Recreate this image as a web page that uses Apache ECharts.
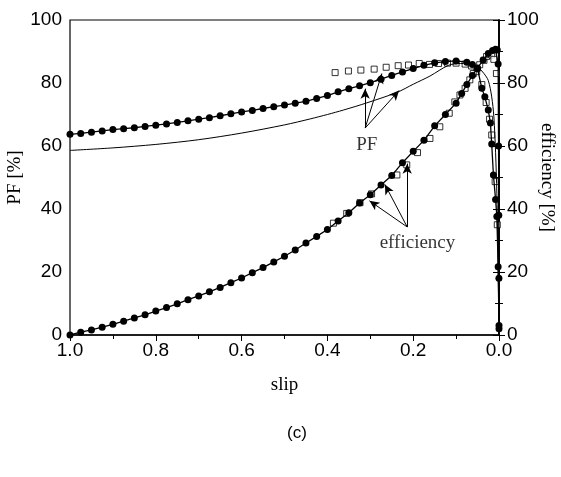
<!DOCTYPE html>
<html>
<head>
<meta charset="utf-8">
<script src="https://cdn.jsdelivr.net/npm/echarts@6/dist/echarts.min.js"></script>
<style>
	html, body { margin: 0; padding: 0; background: #fff; }
	#chart { width: 561px; height: 477px; }
</style>
</head>
<body>
<div id="chart"></div>
<script>
// PF, filled circles (with line)
var pfSlip = [1.0, 0.975, 0.95, 0.925, 0.9, 0.875, 0.85, 0.825, 0.8, 0.775, 0.75, 0.725, 0.7, 0.675, 0.65, 0.625, 0.6, 0.575, 0.55, 0.525, 0.5, 0.475, 0.45, 0.425, 0.4, 0.375, 0.35, 0.325, 0.3, 0.275, 0.25, 0.225, 0.2, 0.175, 0.15, 0.125, 0.1, 0.075, 0.062, 0.05, 0.04, 0.033, 0.025, 0.02, 0.017, 0.013, 0.008, 0.005, 0.002, 0.0];
var pfVal = [63.7, 64.0, 64.4, 64.8, 65.2, 65.5, 65.8, 66.2, 66.6, 67.0, 67.5, 68.0, 68.5, 69.0, 69.6, 70.2, 70.8, 71.3, 71.9, 72.5, 73.0, 73.6, 74.2, 75.1, 76.0, 77.2, 78.2, 79.1, 80.1, 81.2, 82.4, 83.5, 84.6, 85.6, 86.4, 86.8, 87.0, 86.6, 85.9, 84.5, 78.3, 75.6, 71.4, 67.3, 60.6, 50.8, 43.0, 37.6, 21.7, 3.0];

// PF, thin line (no markers)
var pfLineSlip = [1.0, 0.9, 0.8, 0.7, 0.6, 0.5, 0.44, 0.4, 0.363, 0.308, 0.238, 0.2, 0.161, 0.118, 0.09, 0.06, 0.045, 0.035, 0.025, 0.017, 0.012, 0.008, 0.005, 0.003, 0.001, 0.0];
var pfLineVal = [58.6, 59.4, 60.5, 62.0, 64.1, 66.7, 68.6, 70.0, 71.4, 73.7, 77.0, 79.6, 82.2, 85.6, 86.2, 85.8, 84.5, 83.0, 80.8, 75.6, 69.3, 58.0, 45.0, 30.0, 12.0, 4.0];

// PF, open squares
var pfSqSlip = [0.382, 0.351, 0.322, 0.291, 0.263, 0.235, 0.211, 0.186, 0.162, 0.141, 0.12, 0.1, 0.079, 0.064, 0.052, 0.04, 0.03, 0.022, 0.017, 0.009, 0.004];
var pfSqVal = [83.3, 83.8, 84.1, 84.4, 85.0, 85.5, 85.7, 86.2, 85.9, 86.2, 86.3, 86.3, 86.0, 85.4, 83.6, 79.5, 73.8, 68.5, 63.5, 48.7, 35.0];

// efficiency, filled circles (with line)
var effSlip = [1.0, 0.975, 0.95, 0.925, 0.9, 0.875, 0.85, 0.825, 0.8, 0.775, 0.75, 0.725, 0.7, 0.675, 0.65, 0.625, 0.6, 0.575, 0.55, 0.525, 0.5, 0.475, 0.45, 0.425, 0.4, 0.375, 0.35, 0.325, 0.3, 0.275, 0.25, 0.225, 0.2, 0.175, 0.15, 0.125, 0.1, 0.087, 0.075, 0.062, 0.05, 0.037, 0.025, 0.015, 0.008, 0.004, 0.002, 0.001, 0.0005, 0.0002, 0.0];
var effVal = [0.0, 0.9, 1.6, 2.5, 3.4, 4.4, 5.4, 6.4, 7.6, 8.7, 9.9, 11.2, 12.4, 13.7, 15.1, 16.6, 18.1, 19.8, 21.4, 23.2, 25.0, 27.0, 29.2, 31.3, 33.5, 36.2, 38.8, 41.9, 44.5, 47.6, 50.6, 54.7, 58.3, 61.8, 66.4, 70.0, 73.6, 76.7, 79.5, 82.4, 84.8, 87.3, 89.4, 90.3, 90.7, 90.5, 86.0, 60.0, 38.0, 18.0, 2.0];

// efficiency, open squares
var effSqSlip = [0.386, 0.355, 0.324, 0.297, 0.238, 0.215, 0.19, 0.161, 0.138, 0.116, 0.103, 0.091, 0.079, 0.068, 0.06, 0.045, 0.035, 0.029, 0.022, 0.017, 0.012, 0.006];
var effSqVal = [35.5, 38.6, 42.0, 44.8, 50.8, 54.0, 57.9, 62.4, 66.1, 70.4, 74.0, 76.2, 78.3, 81.0, 83.0, 85.8, 87.2, 88.4, 89.0, 88.9, 87.5, 83.0];

function pairs(xs, ys) {
	return xs.map(function(x, i) { return [x, ys[i]]; });
}

var serif = 'Liberation Serif';
var sans = 'Liberation Sans';

var myChart = echarts.init(document.getElementById('chart'));

var option = {
	animation: false,
	backgroundColor: '#fff',
	title: {
		text: '(c)',
		left: 282,
		top: 420,
		textStyle: { fontFamily: sans, fontWeight: 'normal', fontSize: 17, color: '#000' }
	},
	grid: {
		left: 70, right: 62, top: 20, bottom: 142,
		outerBoundsMode: 'none',
		containLabel: false,
		show: true, borderColor: '#000', borderWidth: 1.2
	},
	xAxis: {
		type: 'value',
		min: 0, max: 1, interval: 0.2,
		inverse: true,
		name: 'slip',
		nameLocation: 'middle',
		nameGap: 41,
		nameMoveOverlap: false,
		nameTextStyle: { fontFamily: serif, fontSize: 19, color: '#000' },
		axisLine: { lineStyle: { color: '#000', width: 1.5 } },
		axisTick: { length: 6, lineStyle: { color: '#000' } },
		minorTick: { show: true, splitNumber: 2, length: 4, lineStyle: { color: '#000' } },
		splitLine: { show: false },
		axisLabel: {
			fontFamily: sans, fontSize: 19, color: '#000', margin: 6,
			formatter: function(v) { return v.toFixed(1); }
		}
	},
	yAxis: [{
		type: 'value',
		min: 0, max: 100, interval: 20,
		name: 'PF [%]',
		nameLocation: 'middle',
		nameGap: 45,
		nameMoveOverlap: false,
		nameRotate: 90,
		nameTextStyle: { fontFamily: serif, fontSize: 19, color: '#000' },
		axisLine: { show: true, lineStyle: { color: '#000', width: 1.5 } },
		axisTick: { show: true, length: 6, lineStyle: { color: '#000' } },
		minorTick: { show: true, splitNumber: 2, length: 4, lineStyle: { color: '#000' } },
		splitLine: { show: false },
		axisLabel: { fontFamily: sans, fontSize: 19, color: '#000', margin: 8 }
	}, {
		type: 'value',
		min: 0, max: 100, interval: 20,
		position: 'right',
		name: 'efficiency [%]',
		nameLocation: 'middle',
		nameGap: 38,
		nameMoveOverlap: false,
		nameRotate: -90,
		nameTextStyle: { fontFamily: serif, fontSize: 19, color: '#000' },
		axisLine: { show: true, lineStyle: { color: '#000', width: 1.5 } },
		axisTick: { show: true, length: 6, lineStyle: { color: '#000' } },
		minorTick: { show: true, splitNumber: 2, length: 4, lineStyle: { color: '#000' } },
		splitLine: { show: false },
		axisLabel: { fontFamily: sans, fontSize: 19, color: '#000', margin: 8 }
	}],
	series: [{
		name: 'PF line',
		type: 'line',
		data: pairs(pfLineSlip, pfLineVal),
		smooth: 0.3,
		showSymbol: false,
		lineStyle: { color: '#000', width: 1 }
	}, {
		name: 'PF',
		type: 'line',
		data: pairs(pfSlip, pfVal),
		symbol: 'circle',
		symbolSize: 7,
		itemStyle: { color: '#000' },
		lineStyle: { color: '#000', width: 1.3 }
	}, {
		name: 'PF sq',
		type: 'scatter',
		data: pairs(pfSqSlip, pfSqVal),
		symbol: 'rect',
		symbolSize: 6,
		itemStyle: { color: '#fff', borderColor: '#000', borderWidth: 1 }
	}, {
		name: 'efficiency',
		type: 'line',
		yAxisIndex: 1,
		data: pairs(effSlip, effVal),
		symbol: 'circle',
		symbolSize: 7,
		itemStyle: { color: '#000' },
		lineStyle: { color: '#000', width: 1.3 }
	}, {
		name: 'efficiency sq',
		type: 'scatter',
		yAxisIndex: 1,
		data: pairs(effSqSlip, effSqVal),
		symbol: 'rect',
		symbolSize: 6,
		itemStyle: { color: '#fff', borderColor: '#000', borderWidth: 1 }
	}, {
		// 标注：箭头和文字
		name: 'notes',
		type: 'scatter',
		data: [
			{ value: [0.308, 60.3], name: 'PF' },
			{ value: [0.19, 29.2], name: 'efficiency' }
		],
		symbolSize: 0,
		label: {
			show: true,
			position: 'inside',
			formatter: function(p) { return p.name; },
			fontFamily: serif, fontSize: 19, color: '#000'
		},
		markLine: {
			silent: true,
			symbol: ['none', 'arrow'],
			symbolSize: [7, 10],
			label: { show: false },
			lineStyle: { color: '#000', width: 1, type: 'solid' },
			data: [
				[{ coord: [0.312, 65.7] }, { coord: [0.312, 78.2] }],
				[{ coord: [0.312, 65.7] }, { coord: [0.273, 83.0] }],
				[{ coord: [0.312, 65.7] }, { coord: [0.233, 77.6] }],
				[{ coord: [0.214, 34.3] }, { coord: [0.302, 42.6] }],
				[{ coord: [0.214, 34.3] }, { coord: [0.266, 47.8] }],
				[{ coord: [0.214, 34.3] }, { coord: [0.214, 54.4] }]
			]
		}
	}]
};
myChart.setOption(option);
</script>
</body>
</html>
